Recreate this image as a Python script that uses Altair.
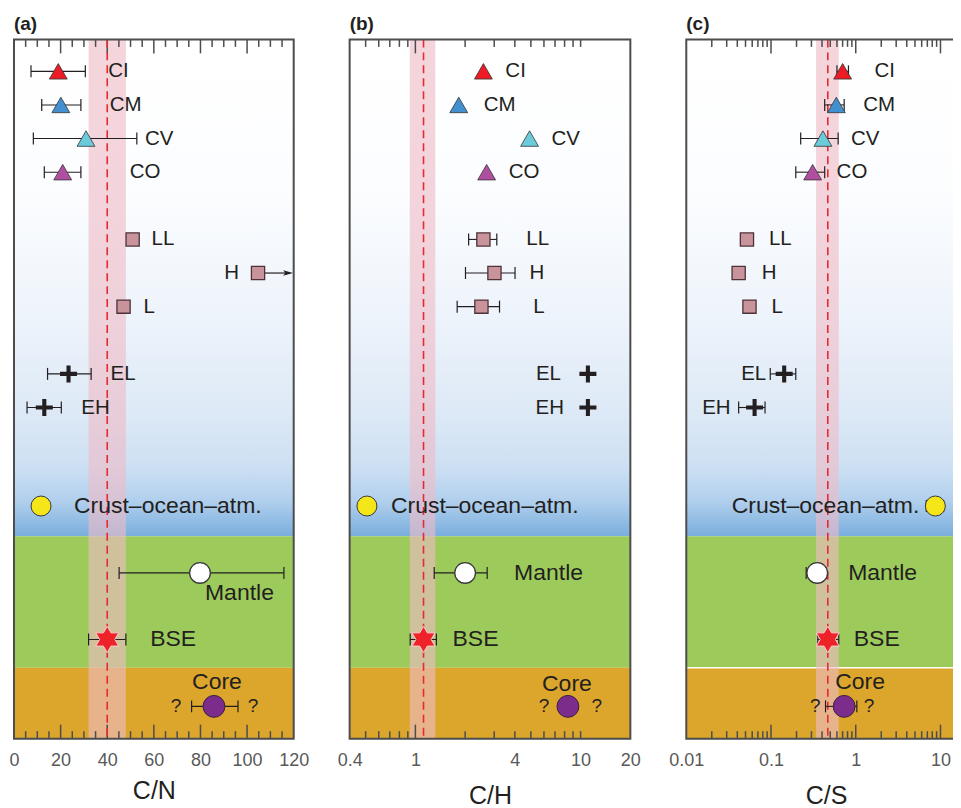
import altair as alt
import pandas as pd

# ---------------- data ----------------
names = ["CI", "CM", "CV", "CO", "LL", "H", "L", "EL", "EH",
         "Crust–ocean–atm.", "Mantle", "BSE", "Core"]
kinds = ["tri"] * 4 + ["sq"] * 3 + ["cross"] * 2 + ["crust", "mantle", "bse", "core"]
rows = [0, 1, 2, 3, 5, 6, 7, 9, 10, 12.93, 14.92, 16.9, 18.89]

# C/N
cn_val = [19.0, 20.1, 30.9, 20.9, 50.9, 104.7, 47.0, 23.4, 13.0, 11.6, 79.8, 40.0, 85.8]
cn_lo = [7.3, 11.9, 8.3, 13.0, None, None, None, 14.4, 5.6, None, 45.1, 32.0, 76.2]
cn_hi = [30.6, 28.7, 52.7, 28.7, None, None, None, 33.1, 20.3, None, 115.8, 48.0, 96.1]
cn_arrow = [None, None, None, None, None, 117.6, None, None, None, None, None, None, None]
cn_band = [32.0, 48.0]
cn_ref = 40.0

# C/H
ch_val = [2.58, 1.83, 4.91, 2.70, 2.58, 3.01, 2.51, 11.07, 11.07, 0.509, 2.0, 1.12, 8.38]
ch_lo = [None, None, None, None, 2.10, 2.01, 1.79, None, None, None, 1.30, 0.93, None]
ch_hi = [None, None, None, None, 3.11, 4.01, 3.23, None, None, None, 2.72, 1.34, None]
ch_band = [0.925, 1.32]
ch_ref = 1.12

# C/S
cs_val = [0.70, 0.59, 0.41, 0.31, 0.052, 0.0415, 0.0557, 0.143, 0.064, 8.7, 0.351, 0.468, 0.73]
cs_lo = [0.60, 0.43, 0.224, 0.196, None, None, None, 0.098, 0.0415, 6.8, 0.26, 0.357, 0.44]
cs_hi = [0.82, 0.73, 0.62, 0.43, None, None, None, 0.196, 0.085, 10.9, 0.45, 0.63, 1.03]
cs_band = [0.34, 0.63]
cs_ref = 0.468

# reservoir zones (row units)
zone_top = [-0.95, 13.83, 17.74]
zone_bottom = [13.83, 17.74, 19.85]

# axis labels / ticks
cn_labels = [0, 20, 40, 60, 80, 100, 120]
cn_major = [20, 40, 60, 80, 100]
cn_minor = [5, 10, 15, 25, 30, 35, 45, 50, 55, 65, 70, 75, 85, 90, 95, 105, 110, 115]
ch_labels = [0.4, 1, 4, 10, 20]
ch_major = [1]
ch_minor = [0.5, 0.6, 0.7, 0.8, 0.9, 2, 3, 4, 5, 6, 7, 8, 9, 10]
cs_labels = [0.01, 0.1, 1, 10]
cs_major = [0.1, 1, 10]
cs_minor = [0.02, 0.03, 0.04, 0.05, 0.06, 0.07, 0.08, 0.09,
            0.2, 0.3, 0.4, 0.5, 0.6, 0.7, 0.8, 0.9,
            2, 3, 4, 5, 6, 7, 8, 9]

# ---------------- styles ----------------
FONT = "Liberation Sans"
TXT = "#231f20"
H = 700
tri_colors = {"CI": "#ed1c24", "CM": "#4290d0", "CV": "#6ccbdb", "CO": "#b04fa0"}
STAR = ("M0,-1L0.2887,-0.5L0.866,-0.5L0.5774,0L0.866,0.5L0.2887,0.5L0,1"
        "L-0.2887,0.5L-0.866,0.5L-0.5774,0L-0.866,-0.5L-0.2887,-0.5Z")
CROSS = "M-1,-0.24L1,-0.24L1,0.24L-1,0.24Z M-0.24,-1L0.24,-1L0.24,1L-0.24,1Z"
ARROW = "M1,0L-1,-0.55L-0.55,0L-1,0.55Z"

specs_a = {"CI": (50, 0, "left"), "CM": (49, 0, "left"), "CV": (59, 0, "left"), "CO": (67, 0, "left"),
           "LL": (19, 0, "left"), "H": (-19, 0, "right"), "L": (20, 0, "left"),
           "EL": (42, 0, "left"), "EH": (37, 0, "left"),
           "Crust–ocean–atm.": (33, 0, "left"), "Mantle": (5, 20, "left"),
           "BSE": (43, 0, "left"), "Core": (3, -24, "center")}
specs_b = {"CI": (22, 0, "left"), "CM": (25, 0, "left"), "CV": (22, 0, "left"), "CO": (22, 0, "left"),
           "LL": (43, 0, "left"), "H": (35, 0, "left"), "L": (52, 0, "left"),
           "EL": (-27, 0, "right"), "EH": (-24, 0, "right"),
           "Crust–ocean–atm.": (24, 0, "left"), "Mantle": (49, 0, "left"),
           "BSE": (29, 0, "left"), "Core": (-1, -22, "center")}
specs_c = {"CI": (32, 0, "left"), "CM": (27, 0, "left"), "CV": (28, 0, "left"), "CO": (24, 0, "left"),
           "LL": (22, 0, "left"), "H": (23, 0, "left"), "L": (22, 0, "left"),
           "EL": (-18, 0, "right"), "EH": (-24, 0, "right"),
           "Crust–ocean–atm.": (-16, 0, "right"), "Mantle": (31, 0, "left"),
           "BSE": (26, 0, "left"), "Core": (16, -24, "center")}

ys = alt.Scale(domain=[-0.95, 19.85], reverse=True, nice=False, zero=False)

blue_grad = alt.LinearGradient(
    gradient="linear", x1=0, x2=0, y1=0, y2=1,
    stops=[alt.GradientStop(color="#ffffff", offset=0),
           alt.GradientStop(color="#fcfdff", offset=0.3),
           alt.GradientStop(color="#eef4fb", offset=0.55),
           alt.GradientStop(color="#dde9f6", offset=0.75),
           alt.GradientStop(color="#cde0f3", offset=0.86),
           alt.GradientStop(color="#b0cfed", offset=0.93),
           alt.GradientStop(color="#7aaedd", offset=1.0)])


def make_panel(letter, axis_title, vals, lo, hi, band, ref, xscale, width,
               labels, major, minor, specs, q_dx, white_line=False, arrow=None,
               title_pad=9):
    xa = alt.Axis(values=labels, ticks=False, tickSize=0, domain=False, grid=False,
                  labelFont=FONT, labelFontSize=18, labelColor="#595959",
                  labelPadding=13, labelOverlap=False, labelFlush=False,
                  labelExpr="format(datum.value, '~g')",
                  titleFont=FONT, titleFontSize=25, titleFontWeight="normal",
                  titleColor=TXT, titlePadding=title_pad)

    def X(f):
        return alt.X(f, type="quantitative", scale=xscale, axis=xa, title=axis_title)

    Y = alt.Y("row:Q", scale=ys, axis=None)
    df = pd.DataFrame({"name": names, "kind": kinds, "row": rows,
                       "val": vals, "lo": lo, "hi": hi})
    one = pd.DataFrame({"a": [0]})
    layers = []

    # backgrounds
    zones = pd.DataFrame({"top": zone_top, "bottom": zone_bottom})
    yb = alt.Y("top:Q", scale=ys, axis=None)
    layers.append(alt.Chart(zones.iloc[[0]]).mark_rect(color=blue_grad).encode(
        x=alt.value(0), x2=alt.value(width), y=yb, y2="bottom:Q"))
    layers.append(alt.Chart(zones.iloc[[1]]).mark_rect(color="#9dcb5b").encode(
        x=alt.value(0), x2=alt.value(width), y=yb, y2="bottom:Q"))
    layers.append(alt.Chart(zones.iloc[[2]]).mark_rect(color="#dba62b").encode(
        x=alt.value(0), x2=alt.value(width), y=yb, y2="bottom:Q"))
    if white_line:
        layers.append(alt.Chart(zones.iloc[[2]]).mark_rule(color="white", strokeWidth=1.5).encode(
            x=alt.value(0), x2=alt.value(width), y=yb))

    # BSE band & reference line
    bdf = pd.DataFrame({"lo": [band[0]], "hi": [band[1]], "ref": [ref]})
    layers.append(alt.Chart(bdf).mark_rect(color="#efbbc6", opacity=0.62).encode(
        x=X("lo"), x2="hi", y=alt.value(0), y2=alt.value(H)))

    # axis ticks (top & bottom, pointing inward)
    for vals_t, ln in ((minor, 7.5), (major, 14)):
        tdf = pd.DataFrame({"t": vals_t})
        layers.append(alt.Chart(tdf).mark_rule(color="#4d4d4d", strokeWidth=1.5).encode(
            x=X("t"), y=alt.value(0), y2=alt.value(ln)))
        layers.append(alt.Chart(tdf).mark_rule(color="#4d4d4d", strokeWidth=1.5).encode(
            x=X("t"), y=alt.value(H), y2=alt.value(H - ln)))

    layers.append(alt.Chart(bdf).mark_rule(color="#e62a32", strokeWidth=1.6,
                                           strokeDash=[8, 5]).encode(
        x=X("ref"), y=alt.value(0), y2=alt.value(H)))

    # error bars
    edf = df.dropna(subset=["lo", "hi"])
    layers.append(alt.Chart(edf).mark_rule(color=TXT, strokeWidth=1.1).encode(
        x=X("lo"), x2="hi", y=Y))
    for f in ("lo", "hi"):
        layers.append(alt.Chart(edf).mark_tick(color=TXT, orient="vertical", size=12,
                                               thickness=1.2, opacity=1).encode(
            x=X(f), y=Y))

    # arrow (lower limit)
    if arrow is not None:
        adf = df.assign(arrow=arrow).dropna(subset=["arrow"])
        layers.append(alt.Chart(adf).mark_rule(color=TXT, strokeWidth=1.2).encode(
            x=X("val"), x2="arrow", y=Y))
        layers.append(alt.Chart(adf).mark_point(shape=ARROW, size=100, filled=True,
                                                fill=TXT, strokeWidth=0, opacity=1).encode(
            x=X("arrow"), y=Y))

    # markers
    tri = df[df.kind == "tri"]
    layers.append(alt.Chart(tri).mark_point(shape="triangle-up", size=320, filled=True,
                                            stroke="#333333", strokeWidth=0.8, opacity=1).encode(
        x=X("val"), y=Y,
        fill=alt.Fill("name:N", scale=alt.Scale(domain=list(tri_colors.keys()),
                                                range=list(tri_colors.values())),
                      legend=None)))
    layers.append(alt.Chart(df[df.kind == "sq"]).mark_point(
        shape="square", size=175, filled=True, fill="#c9939c", stroke="#4d3339",
        strokeWidth=1.3, opacity=1).encode(x=X("val"), y=Y))
    layers.append(alt.Chart(df[df.kind == "cross"]).mark_point(
        shape=CROSS, size=290, filled=True, fill=TXT, strokeWidth=0, opacity=1).encode(
        x=X("val"), y=Y))
    res_style = {"crust": ("circle", 400, "#f5e61a", "#3a3a3a", 1.0),
                 "mantle": ("circle", 430, "#ffffff", "#3a3a3a", 1.3),
                 "bse": (STAR, 700, "#ee2229", "#f9cfcf", 1.0),
                 "core": ("circle", 480, "#7c2d8c", "#3a2040", 1.0)}
    for k, (shp, sz, fl, st, sw) in res_style.items():
        layers.append(alt.Chart(df[df.kind == k]).mark_point(
            shape=shp, size=sz, filled=True, fill=fl, stroke=st, strokeWidth=sw,
            opacity=1).encode(x=X("val"), y=Y))

    # labels
    for i, n in enumerate(names):
        dx, dy, al = specs[n]
        fs = 20.5 if i < 9 else 23
        layers.append(alt.Chart(df.iloc[[i]]).mark_text(
            dx=dx, dy=dy, align=al, baseline="middle", font=FONT, fontSize=fs,
            color=TXT).encode(x=X("val"), y=Y, text="name:N"))
    core = df[df.kind == "core"]
    for qd in q_dx:
        layers.append(alt.Chart(core).mark_text(
            text="?", dx=qd, align="center", baseline="middle", font=FONT, fontSize=19,
            color=TXT).encode(x=X("val"), y=Y))

    # frame
    layers.append(alt.Chart(one).mark_rect(filled=False, stroke="#4d4d4d", strokeWidth=2).encode(
        x=alt.value(0), x2=alt.value(width), y=alt.value(0), y2=alt.value(H)))

    return alt.layer(*layers).properties(
        width=width, height=H,
        title=alt.TitleParams(letter, anchor="start", frame="group", fontSize=19,
                              fontWeight="bold", font=FONT, color=TXT, offset=4))


pa = make_panel("(a)", "C/N", cn_val, cn_lo, cn_hi, cn_band, cn_ref,
                alt.Scale(domain=[0, 120], nice=False, zero=False), 280,
                cn_labels, cn_major, cn_minor, specs_a, (-38, 39), arrow=cn_arrow,
                title_pad=9)
pb = make_panel("(b)", "C/H", ch_val, ch_lo, ch_hi, ch_band, ch_ref,
                alt.Scale(type="log", domain=[0.4, 20], nice=False), 281,
                ch_labels, ch_major, ch_minor, specs_b, (-24, 29), title_pad=14)
pc = make_panel("(c)", "C/S", cs_val, cs_lo, cs_hi, cs_band, cs_ref,
                alt.Scale(type="log", domain=[0.01, 20], nice=False), 280,
                cs_labels, cs_major, cs_minor, specs_c, (-29, 25), white_line=True,
                title_pad=14)

chart = alt.hconcat(pa, pb, pc, spacing=56, bounds="flush").resolve_scale(
    x="independent"
).properties(
    padding={"left": 0, "top": 7, "right": -14, "bottom": 0}
).configure_view(stroke=None)

chart.save("out.html", embed_options={"renderer": "svg", "actions": False})
